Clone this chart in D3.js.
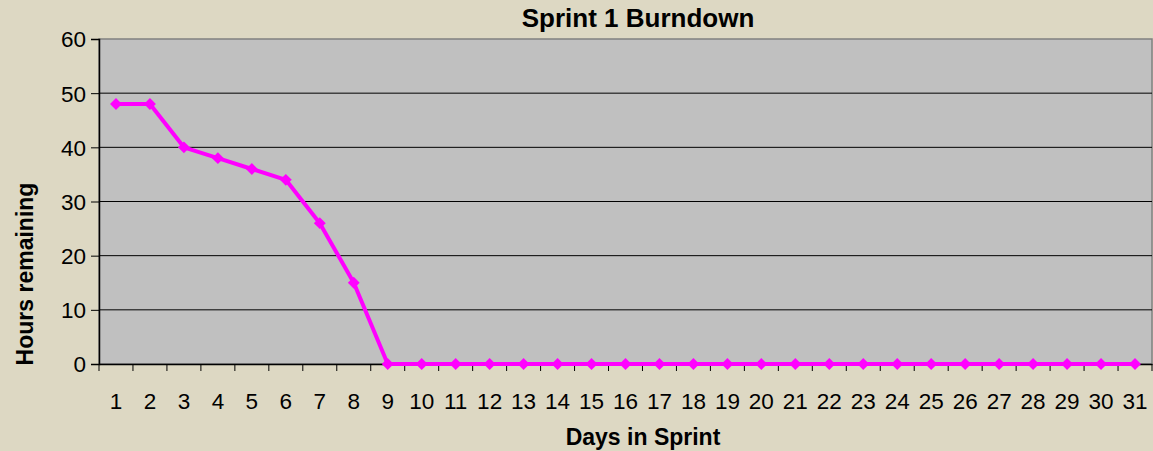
<!DOCTYPE html>
<html>
<head>
  <meta charset="utf-8">
  <title>Sprint 1 Burndown</title>
  <style>
    * { padding: 0; margin: 0; }
    html, body { width: 100%; height: 100%; background: #ddd8c3; overflow: hidden; }
    svg { display: block; font-family: "Liberation Sans", Arial, sans-serif; }
    .tick text { font-size: 22.5px; fill: #000; }
  </style>
</head>
<body>
  <svg id="svg"></svg>
  <script src="https://cdnjs.cloudflare.com/ajax/libs/d3/7.8.5/d3.min.js"></script>
  <script>
    const days = d3.range(1, 32);
    const hours = [48, 48, 40, 38, 36, 34, 26, 15, 0, 0, 0, 0, 0, 0, 0, 0, 0, 0, 0, 0, 0, 0, 0, 0, 0, 0, 0, 0, 0, 0, 0];
    const yTicks = [0, 10, 20, 30, 40, 50, 60];

    const dimension = {
      width: 1153,
      height: 451,
      margin: { top: 39, right: 1, bottom: 87, left: 99 }
    }

    const svg = d3.select('#svg').attr('width', dimension.width).attr('height', dimension.height);
    const plotW = dimension.width - dimension.margin.left - dimension.margin.right;
    const plotH = dimension.height - dimension.margin.top - dimension.margin.bottom;

    const xScale = d3.scaleBand().domain(days).range([dimension.margin.left, dimension.margin.left + plotW]);
    const yScale = d3.scaleLinear().domain([0, 60]).range([dimension.margin.top + plotH, dimension.margin.top]);

    // plot area
    svg.append('rect')
      .attr('x', dimension.margin.left)
      .attr('y', dimension.margin.top)
      .attr('width', plotW)
      .attr('height', plotH)
      .attr('fill', '#c0c0c0')
      .attr('stroke', '#808080')
      .attr('stroke-width', 1.5);

    // gridlines
    svg.append('g')
      .selectAll('line')
      .data(yTicks.filter(d => d > 0 && d < 60))
      .enter()
      .append('line')
      .attr('x1', dimension.margin.left)
      .attr('x2', dimension.margin.left + plotW)
      .attr('y1', d => yScale(d))
      .attr('y2', d => yScale(d))
      .attr('stroke', '#000')
      .attr('stroke-width', 1);

    // y axis
    const yAxis = d3.axisLeft(yScale).tickValues(yTicks).tickSize(8).tickPadding(5);
    svg.append('g')
      .attr('transform', `translate(${dimension.margin.left}, 0)`)
      .call(yAxis)
      .call(g => g.select('.domain').attr('stroke', '#000').attr('stroke-width', 1.5))
      .call(g => g.selectAll('.tick text').attr('dy', '0.35em'));

    // x axis: ticks on band edges
    const xAxis = d3.axisBottom(xScale).tickSizeOuter(0).tickSize(0).tickPadding(29);
    const xg = svg.append('g')
      .attr('transform', `translate(0, ${dimension.margin.top + plotH})`)
      .call(xAxis);
    xg.select('.domain').attr('stroke', '#000').attr('stroke-width', 1.5);
    xg.selectAll('.edge')
      .data(days.concat([32]))
      .enter()
      .append('line')
      .attr('x1', d => d <= 31 ? xScale(d) : xScale(31) + xScale.bandwidth())
      .attr('x2', d => d <= 31 ? xScale(d) : xScale(31) + xScale.bandwidth())
      .attr('y1', 0)
      .attr('y2', 7)
      .attr('stroke', '#000');

    // line
    const line = d3.line()
      .x((d, i) => xScale(days[i]) + xScale.bandwidth() / 2)
      .y(d => yScale(d));

    svg.append('path')
      .datum(hours)
      .attr('d', line)
      .attr('fill', 'none')
      .attr('stroke', '#ff00ff')
      .attr('stroke-width', 4)
      .attr('stroke-linejoin', 'round');

    svg.selectAll('.marker')
      .data(hours)
      .enter()
      .append('path')
      .attr('class', 'marker')
      .attr('d', d3.symbol().type(d3.symbolDiamond2).size(90))
      .attr('transform', (d, i) => `translate(${xScale(days[i]) + xScale.bandwidth() / 2}, ${yScale(d)})`)
      .attr('fill', '#ff00ff');

    // titles
    svg.append('text')
      .text('Sprint 1 Burndown')
      .attr('x', 638)
      .attr('y', 27)
      .attr('text-anchor', 'middle')
      .style('font-size', '26px')
      .style('font-weight', 'bold');

    svg.append('text')
      .text('Days in Sprint')
      .attr('x', 643)
      .attr('y', 445)
      .attr('text-anchor', 'middle')
      .style('font-size', '23px')
      .style('font-weight', 'bold');

    svg.append('text')
      .text('Hours remaining')
      .attr('transform', 'translate(33, 274) rotate(-90)')
      .attr('text-anchor', 'middle')
      .style('font-size', '23px')
      .style('font-weight', 'bold');
  </script>
</body>
</html>
